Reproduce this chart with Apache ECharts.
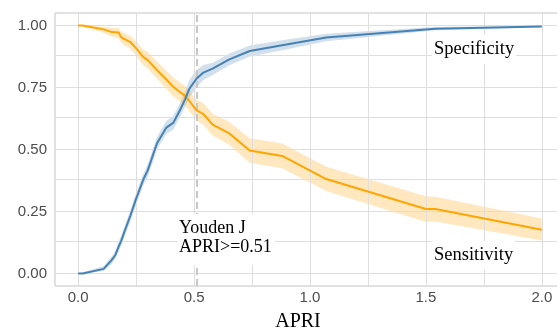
<!DOCTYPE html>
<html>
<head>
<meta charset="utf-8">
<script src="https://cdn.jsdelivr.net/npm/echarts@6/dist/echarts.min.js"></script>
<style>
html,body{margin:0;padding:0;background:#fff;}
#chart{width:557px;height:335px;}
</style>
</head>
<body>
<div id="chart"></div>
<script>
// ---- data ----
const thresholds   = [0, 0.02, 0.11, 0.145, 0.16, 0.175, 0.185, 0.2, 0.225, 0.25, 0.28, 0.3, 0.34, 0.38, 0.41, 0.44, 0.46, 0.48, 0.51, 0.54, 0.58, 0.65, 0.74, 0.88, 1.07, 1.50, 1.54, 2.0];
const sensitivity  = [1.0, 1.0, 0.984, 0.973, 0.972, 0.971, 0.953, 0.945, 0.933, 0.908, 0.873, 0.860, 0.820, 0.782, 0.753, 0.731, 0.717, 0.695, 0.659, 0.643, 0.600, 0.566, 0.496, 0.474, 0.381, 0.260, 0.260, 0.177];
const sensLower    = [1.0, 0.995, 0.970, 0.955, 0.952, 0.948, 0.930, 0.920, 0.905, 0.878, 0.840, 0.826, 0.785, 0.745, 0.715, 0.692, 0.677, 0.654, 0.617, 0.600, 0.556, 0.520, 0.447, 0.424, 0.333, 0.208, 0.210, 0.133];
const sensUpper    = [1.0, 1.0, 0.995, 0.990, 0.990, 0.990, 0.975, 0.968, 0.958, 0.935, 0.903, 0.893, 0.855, 0.818, 0.790, 0.770, 0.757, 0.736, 0.700, 0.686, 0.644, 0.612, 0.545, 0.524, 0.430, 0.312, 0.310, 0.222];
const specificity  = [0.0, 0.0, 0.019, 0.055, 0.074, 0.110, 0.130, 0.170, 0.233, 0.302, 0.377, 0.416, 0.525, 0.588, 0.607, 0.660, 0.700, 0.745, 0.785, 0.810, 0.826, 0.862, 0.897, 0.920, 0.951, 0.984, 0.987, 0.996];
const specLower    = [0.0, 0.0, 0.010, 0.040, 0.060, 0.090, 0.110, 0.150, 0.210, 0.275, 0.355, 0.390, 0.500, 0.562, 0.580, 0.632, 0.670, 0.710, 0.750, 0.780, 0.800, 0.838, 0.875, 0.900, 0.936, 0.976, 0.980, 0.993];
const specUpper    = [0.0, 0.005, 0.030, 0.070, 0.090, 0.130, 0.150, 0.190, 0.255, 0.325, 0.400, 0.440, 0.550, 0.615, 0.635, 0.688, 0.730, 0.780, 0.820, 0.840, 0.850, 0.886, 0.919, 0.940, 0.966, 0.992, 0.994, 0.999];
const youdenCut    = 0.51;
const xTickLabels  = [0, 0.5, 1, 1.5, 2];
const yTickLabels  = [0, 0.25, 0.5, 0.75, 1];
const xGridValues  = [0, 0.25, 0.5, 0.75, 1, 1.25, 1.5, 1.75, 2];
const yGridValues  = [0, 0.125, 0.25, 0.375, 0.5, 0.625, 0.75, 0.875, 1];

// ---- helpers ----
function bandSeries(lo, hi, color) {
  return {
    type: 'custom',
    silent: true,
    z: 2,
    data: thresholds.map((x, i) => [x, lo[i], hi[i]]),
    encode: { x: 0, y: [1, 2] },
    renderItem: function (params, api) {
      if (params.dataIndex !== 0) return null;
      const pts = [];
      for (let i = 0; i < thresholds.length; i++) pts.push(api.coord([thresholds[i], hi[i]]));
      for (let i = thresholds.length - 1; i >= 0; i--) pts.push(api.coord([thresholds[i], lo[i]]));
      return { type: 'polygon', shape: { points: pts }, style: { fill: color } };
    }
  };
}
function lineSeries(vals, color) {
  return {
    type: 'line',
    z: 5,
    silent: true,
    symbol: 'none',
    data: thresholds.map((x, i) => [x, vals[i]]),
    lineStyle: { color: color, width: 2 }
  };
}

const gridLineData = xGridValues.map(v => ({ xAxis: v })).concat(yGridValues.map(v => ({ yAxis: v })));

const chart = echarts.init(document.getElementById('chart'), null, { renderer: 'canvas' });
chart.setOption({
  animation: false,
  backgroundColor: '#ffffff',
  grid: { left: 55, top: 13, width: 510, height: 273, outerBoundsMode: 'none', containLabel: false,
          show: true, borderColor: '#c4c4c4', borderWidth: 1, backgroundColor: 'transparent' },
  xAxis: {
    type: 'value', min: -0.1, max: 2.1,
    axisLine: { show: false }, axisTick: { show: false }, splitLine: { show: false },
    axisLabel: { customValues: xTickLabels, formatter: v => v.toFixed(1), color: '#4d4d4d', fontSize: 15, fontFamily: 'Liberation Sans', margin: 4, showMinLabel: true, showMaxLabel: true }
  },
  yAxis: {
    type: 'value', min: -0.05, max: 1.05,
    axisLine: { show: false }, axisTick: { show: false }, splitLine: { show: false },
    axisLabel: { customValues: yTickLabels, formatter: v => v.toFixed(2), color: '#4d4d4d', fontSize: 15, fontFamily: 'Liberation Sans', margin: 8 }
  },
  series: [
    {
      type: 'line', data: [], z: 1, silent: true,
      markLine: { silent: true, symbol: 'none', label: { show: false }, animation: false,
        lineStyle: { color: '#dedede', width: 1, type: 'solid' }, data: gridLineData }
    },
    bandSeries(specLower, specUpper, 'rgba(70,130,180,0.25)'),
    bandSeries(sensLower, sensUpper, 'rgba(255,165,0,0.25)'),
    {
      type: 'line', data: [], z: 3, silent: true,
      markLine: { silent: true, symbol: 'none', label: { show: false }, animation: false,
        lineStyle: { color: '#c8c8c8', width: 2, type: [7, 4] }, data: [{ xAxis: youdenCut }] }
    },
    lineSeries(sensitivity, '#FFA500'),
    lineSeries(specificity, '#4682B4')
  ],
  graphic: [
    { type: 'text', z: 100, left: 177, top: 214, style: { text: 'Youden J\nAPRI>=0.51', font: '18px "Liberation Serif"', fill: '#000', lineHeight: 19, backgroundColor: '#ffffff', padding: [5, 3, 8, 2] } },
    { type: 'text', z: 100, left: 432, top: 35, style: { text: 'Specificity', font: '18.5px "Liberation Serif"', fill: '#000', backgroundColor: '#ffffff', padding: [5, 2, 5, 2] } },
    { type: 'text', z: 100, left: 432, top: 241, style: { text: 'Sensitivity', font: '18.5px "Liberation Serif"', fill: '#000', backgroundColor: '#ffffff', padding: [5, 2, 5, 2] } },
    { type: 'text', z: 100, x: 298, y: 322, style: { text: 'APRI', font: '20px "Liberation Serif"', fill: '#000', align: 'center', verticalAlign: 'middle' } }
  ]
});
</script>
</body>
</html>
